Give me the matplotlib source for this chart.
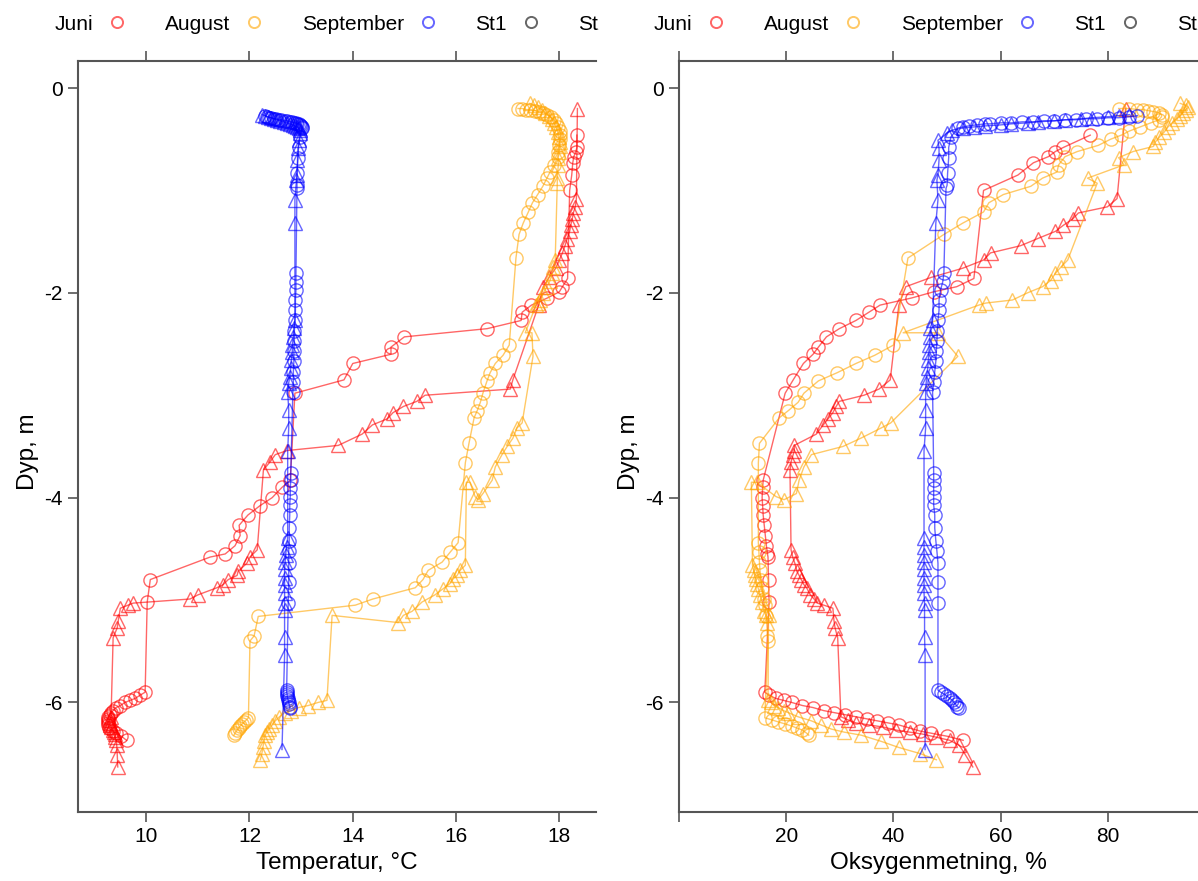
"""Depth profiles of temperature and oxygen saturation, June/August/September, St1 and St2."""

import matplotlib

matplotlib.use("Agg")
import matplotlib.pyplot as plt
from matplotlib.lines import Line2D
from matplotlib.transforms import Bbox, TransformedBbox

plt.rcParams["font.family"] = ["Liberation Sans", "DejaVu Sans"]
plt.rcParams["axes.unicode_minus"] = False

# ---- data (depth in m, temperature in C, oxygen in %) ----
juni_st1_depth = [-0.46, -0.58, -0.62, -0.67, -0.73, -0.85, -1.0, -1.86, -1.94, -1.99, -2.05, -2.12, -2.19,
                  -2.27, -2.35, -2.43, -2.53, -2.6, -2.69, -2.85, -2.98, -3.83, -3.9, -4.0, -4.08, -4.17,
                  -4.27, -4.37, -4.47, -4.55, -4.58, -4.8, -5.02,
                  -5.9, -5.93, -5.96, -5.98, -6.0, -6.03, -6.05, -6.08, -6.1, -6.12, -6.14, -6.16, -6.18,
                  -6.2, -6.22, -6.25, -6.28, -6.3, -6.33, -6.37]
juni_st1_temp = [18.34, 18.34, 18.32, 18.28, 18.26, 18.24, 18.2, 18.16, 18.06, 18.0, 17.77, 17.46, 17.28,
                 17.26, 16.6, 15.0, 14.74, 14.74, 14.0, 13.83, 12.88, 12.79, 12.63, 12.44, 12.2, 11.97,
                 11.8, 11.82, 11.72, 11.53, 11.24, 10.08, 10.02,
                 9.98, 9.88, 9.79, 9.69, 9.59, 9.5, 9.42, 9.36, 9.32, 9.29, 9.27, 9.26, 9.26,
                 9.26, 9.27, 9.28, 9.35, 9.42, 9.52, 9.62]
juni_st1_oxy = [76.7, 71.7, 70.2, 68.9, 66.1, 63.2, 56.8, 55.0, 51.8, 47.5, 43.4, 37.5, 35.4,
                33.0, 29.9, 27.5, 26.0, 25.0, 23.2, 21.3, 19.8, 15.7, 15.6, 15.5, 15.6, 15.7,
                15.9, 16.1, 16.3, 16.5, 16.6, 16.7, 16.8,
                16.0, 16.8, 18.0, 19.5, 21.0, 23.0, 25.0, 27.0, 29.0, 31.0, 33.0, 35.0, 37.0,
                39.0, 41.0, 43.0, 45.0, 47.0, 50.0, 53.0]

juni_st2_depth = [-0.2, -1.08, -1.16, -1.22, -1.28, -1.34, -1.4, -1.47, -1.54, -1.61, -1.68, -1.76, -1.85,
                  -1.94, -2.12, -2.85, -2.94,
                  -3.0, -3.06, -3.11, -3.17, -3.23, -3.29, -3.38, -3.49, -3.54, -3.58, -3.65, -3.73,
                  -4.51, -4.58, -4.64, -4.72, -4.76, -4.8, -4.85, -4.88, -4.95, -4.99, -5.03, -5.05,
                  -5.08, -5.2, -5.27, -5.37,
                  -6.14, -6.17, -6.2, -6.22, -6.24, -6.27, -6.29, -6.31, -6.34, -6.37, -6.42, -6.51, -6.63]
juni_st2_temp = [18.35, 18.33, 18.31, 18.27, 18.25, 18.22, 18.2, 18.15, 18.11, 18.06, 18.0, 17.93, 17.8,
                 17.69, 17.6, 17.1, 17.05,
                 15.4, 15.24, 14.98, 14.78, 14.67, 14.38, 14.18, 13.72, 12.73, 12.5, 12.4, 12.27,
                 12.15, 12.01, 11.95, 11.78, 11.76, 11.59, 11.49, 11.37, 11.0, 10.85, 9.75, 9.65,
                 9.5, 9.46, 9.44, 9.36,
                 9.32, 9.3, 9.29, 9.3, 9.32, 9.35, 9.37, 9.39, 9.4, 9.42, 9.43, 9.44, 9.45]
juni_st2_oxy = [83.3, 81.7, 79.9, 74.5, 73.4, 71.7, 70.2, 66.9, 63.7, 58.1, 56.8, 52.9, 47.0,
                42.3, 41.0, 39.4, 37.3,
                34.5, 29.9, 29.3, 28.7, 27.8, 26.9, 25.6, 21.5, 21.5, 21.3, 20.9, 20.7,
                20.9, 21.2, 21.6, 22.0, 22.4, 22.8, 23.3, 23.8, 24.5, 25.2, 25.8, 27.0,
                28.7, 28.9, 29.1, 29.6,
                30.2, 31.5, 33.0, 35.5, 38.0, 40.5, 43.0, 45.5, 48.0, 50.5, 52.3, 53.4, 54.8]

august_st1_depth = [-0.2, -0.2, -0.21, -0.21, -0.22, -0.23, -0.24, -0.26, -0.28, -0.31, -0.34, -0.38,
                    -0.42, -0.46, -0.5, -0.56, -0.62,
                    -0.67, -0.75, -0.82, -0.88, -0.96, -1.04, -1.12, -1.21, -1.32, -1.43, -1.66,
                    -2.51, -2.61, -2.69, -2.78, -2.86, -2.98, -3.07, -3.15, -3.22, -3.47, -3.66,
                    -4.44, -4.53, -4.63, -4.71, -4.8, -4.88, -4.99, -5.05, -5.16, -5.35, -5.4,
                    -6.15, -6.17, -6.19, -6.21, -6.23, -6.25, -6.27, -6.3, -6.32]
august_st1_temp = [17.2, 17.28, 17.36, 17.44, 17.52, 17.6, 17.68, 17.76, 17.83, 17.89, 17.94, 17.98,
                   18.01, 18.02, 18.02, 18.0, 17.98,
                   17.97, 17.9, 17.82, 17.76, 17.68, 17.58, 17.48, 17.4, 17.3, 17.22, 17.16,
                   17.03, 16.91, 16.76, 16.66, 16.6, 16.52, 16.47, 16.41, 16.35, 16.25, 16.18,
                   16.04, 15.89, 15.73, 15.46, 15.36, 15.21, 14.39, 14.05, 12.17, 12.09, 12.01,
                   11.98, 11.94, 11.9, 11.86, 11.82, 11.79, 11.76, 11.72, 11.7]
august_st1_oxy = [82.0, 84.0, 85.5, 86.5, 87.5, 88.5, 89.5, 90.0, 90.0, 89.5, 88.0, 86.0,
                  84.0, 82.5, 80.5, 78.2, 74.3,
                  72.0, 70.8, 70.5, 67.8, 65.6, 60.5, 57.8, 56.8, 52.9, 49.4, 42.7,
                  40.0, 36.5, 33.0, 29.5, 26.0, 23.3, 22.2, 20.4, 18.7, 15.0, 14.8,
                  14.8, 14.9, 15.0, 15.1, 15.3, 15.5, 15.8, 16.0, 16.3, 16.5, 16.6,
                  16.0, 17.3, 18.5, 19.8, 21.0, 22.0, 23.0, 23.8, 24.2]

august_st2_depth = [-0.15, -0.17, -0.19, -0.21, -0.24, -0.27, -0.3, -0.34, -0.38, -0.43, -0.48, -0.53,
                    -0.57, -0.62, -0.68,
                    -0.75, -0.88, -0.93,
                    -1.68, -1.75, -1.81, -1.88, -1.94, -2.0, -2.07, -2.1, -2.12, -2.39, -2.39, -2.62,
                    -3.27, -3.32, -3.42, -3.5, -3.58, -3.7, -3.83, -3.96, -4.02, -3.99, -3.85, -3.85,
                    -4.66, -4.71, -4.76, -4.79, -4.84, -4.89, -4.95, -5.02, -5.11, -5.15, -5.22, -5.15,
                    -5.98, -6.0, -6.03, -6.05, -6.08, -6.1, -6.14, -6.18, -6.22, -6.26, -6.29, -6.32,
                    -6.38, -6.44, -6.5, -6.56]
august_st2_temp = [17.43, 17.5, 17.58, 17.66, 17.73, 17.8, 17.86, 17.9, 17.94, 17.97, 17.99, 18.01,
                   18.01, 18.0, 17.98,
                   17.98, 17.96, 17.96,
                   17.92, 17.88, 17.86, 17.82, 17.76, 17.69, 17.63, 17.58, 17.55, 17.34, 17.47, 17.49,
                   17.28, 17.18, 17.1, 16.99, 16.89, 16.76, 16.7, 16.52, 16.43, 16.37, 16.27, 16.2,
                   16.18, 16.08, 16.02, 15.95, 15.88, 15.75, 15.59, 15.34, 15.15, 14.98, 14.88, 13.6,
                   13.5, 13.33, 13.14, 12.95, 12.8, 12.68, 12.58, 12.5, 12.44, 12.38, 12.34, 12.3,
                   12.28, 12.26, 12.24, 12.21]
august_st2_oxy = [93.5, 94.5, 95.0, 94.5, 94.0, 93.5, 92.8, 92.0, 91.2, 90.5, 89.6, 88.8,
                  88.5, 84.7, 82.0,
                  83.0, 76.2, 78.0,
                  72.5, 71.2, 70.2, 69.3, 67.8, 65.0, 62.2, 57.2, 55.9, 41.8, 48.3, 52.0,
                  39.5, 37.7, 33.9, 30.6, 24.7, 23.3, 22.4, 21.9, 19.6, 18.1, 14.5, 13.5,
                  13.7, 13.9, 14.1, 14.3, 14.5, 14.8, 15.1, 15.5, 15.9, 16.2, 16.5, 16.7,
                  16.6, 17.2, 17.7, 18.5, 19.5, 20.4, 22.2, 24.7, 26.5, 28.4, 30.8, 34.0,
                  37.7, 41.0, 45.0, 48.0]

september_st1_depth = [-0.27, -0.28, -0.29, -0.29, -0.3, -0.3, -0.31, -0.31, -0.32, -0.32, -0.33, -0.33,
                       -0.34, -0.34, -0.35, -0.35, -0.36, -0.37, -0.38, -0.39,
                       -0.48, -0.58, -0.68, -0.83, -0.95, -0.98,
                       -1.81, -1.89, -1.97, -2.07, -2.17, -2.27, -2.37, -2.47, -2.57, -2.67, -2.77,
                       -2.87, -2.97,
                       -3.76, -3.83, -3.91, -3.99, -4.07, -4.17, -4.3, -4.42, -4.52, -4.64, -4.82, -5.03,
                       -5.88, -5.9, -5.92, -5.94, -5.96, -5.98, -6.0, -6.02, -6.04, -6.05]
september_st1_temp = [12.3, 12.34, 12.38, 12.42, 12.47, 12.52, 12.57, 12.62, 12.68, 12.73, 12.78, 12.82,
                      12.86, 12.9, 12.93, 12.96, 12.98, 13.0, 13.01, 13.02,
                      12.98, 12.95, 12.94, 12.92, 12.92, 12.92,
                      12.9, 12.9, 12.9, 12.89, 12.89, 12.88, 12.87, 12.87, 12.86, 12.86, 12.85,
                      12.85, 12.84,
                      12.8, 12.8, 12.79, 12.79, 12.78, 12.78, 12.77, 12.77, 12.76, 12.76, 12.76, 12.75,
                      12.72, 12.72, 12.73, 12.73, 12.74, 12.75, 12.76, 12.77, 12.78, 12.78]
september_st1_oxy = [85.5, 84.0, 82.0, 80.0, 78.0, 76.0, 74.0, 72.0, 70.0, 68.0, 66.0, 64.0,
                     62.0, 60.0, 58.0, 57.0, 55.5, 54.0, 53.0, 52.0,
                     50.7, 50.3, 50.3, 50.1, 50.0, 49.8,
                     49.4, 49.2, 48.8, 48.5, 48.5, 48.3, 48.2, 48.1, 48.0, 47.9, 47.7,
                     47.5, 47.3,
                     47.5, 47.5, 47.5, 47.5, 47.5, 47.7, 47.7, 47.9, 48.1, 48.3, 48.3, 48.3,
                     48.3, 48.8, 49.5, 50.0, 50.5, 51.0, 51.3, 51.6, 51.9, 52.2]

september_st2_depth = [-0.26, -0.27, -0.28, -0.29, -0.3, -0.31, -0.32, -0.33, -0.34, -0.35, -0.36, -0.37,
                       -0.38, -0.39, -0.41, -0.44,
                       -0.51, -0.59, -0.7, -0.85, -0.9, -1.09, -1.32,
                       -2.27, -2.34, -2.43, -2.51, -2.58, -2.66, -2.73, -2.82, -2.88, -2.97, -3.14,
                       -3.32, -3.54,
                       -4.39, -4.48, -4.56, -4.63, -4.7, -4.78, -4.85, -4.93, -5.03, -5.1, -5.36, -5.54,
                       -6.46]
september_st2_temp = [12.25, 12.3, 12.36, 12.42, 12.48, 12.54, 12.6, 12.66, 12.72, 12.78, 12.84, 12.88,
                      12.92, 12.95, 12.97, 12.98,
                      12.96, 12.94, 12.93, 12.92, 12.91, 12.88, 12.88,
                      12.88, 12.86, 12.85, 12.83, 12.83, 12.81, 12.8, 12.78, 12.76, 12.74, 12.76,
                      12.76, 12.74,
                      12.74, 12.72, 12.7, 12.69, 12.68, 12.68, 12.68, 12.68, 12.68, 12.68, 12.68, 12.68,
                      12.63]
september_st2_oxy = [84.0, 82.0, 80.0, 77.0, 75.0, 72.0, 70.0, 67.0, 65.0, 62.0, 60.0, 57.0,
                     55.0, 53.0, 51.0, 50.0,
                     48.3, 48.5, 48.5, 48.3, 48.1, 48.3, 47.9,
                     47.3, 46.9, 46.8, 46.7, 46.6, 46.5, 46.4, 46.2, 46.1, 46.0, 46.0,
                     46.0, 45.7,
                     45.7, 45.7, 45.7, 45.7, 45.7, 45.7, 45.7, 45.7, 45.8, 45.8, 45.8, 45.9,
                     45.9]

months = ["Juni", "August", "September"]
stations = ["St1", "St2"]
temp_ticks = [10, 12, 14, 16, 18]
oxy_ticks = [0, 20, 40, 60, 80]
oxy_tick_labels = ["", "20", "40", "60", "80"]
depth_ticks = [0, -2, -4, -6]

MONTH_COLORS = {"Juni": "#ff0000", "August": "#ffa500", "September": "#0000ff"}
STATION_MARKERS = {"St1": "o", "St2": "^"}
AXIS_COLOR = "#555555"

profiles = [
    ("Juni", "St1", juni_st1_depth, juni_st1_temp, juni_st1_oxy),
    ("Juni", "St2", juni_st2_depth, juni_st2_temp, juni_st2_oxy),
    ("August", "St1", august_st1_depth, august_st1_temp, august_st1_oxy),
    ("August", "St2", august_st2_depth, august_st2_temp, august_st2_oxy),
    ("September", "St1", september_st1_depth, september_st1_temp, september_st1_oxy),
    ("September", "St2", september_st2_depth, september_st2_temp, september_st2_oxy),
]

W, H = 1198, 881
fig = plt.figure(figsize=(W / 100, H / 100), dpi=100)


def add_axes_px(x0, x1, y0, y1):
    return fig.add_axes([x0 / W, 1 - y1 / H, (x1 - x0) / W, (y1 - y0) / H])


def style_axes(ax):
    ax.spines["right"].set_visible(False)
    for side in ("left", "bottom", "top"):
        ax.spines[side].set_color(AXIS_COLOR)
        ax.spines[side].set_linewidth(1.5)
    ax.tick_params(direction="out", length=7, width=1.2, color=AXIS_COLOR, labelsize=15,
                   top=True, labeltop=False, right=False, pad=4)
    ax.set_ylim(-7.07, 0.264)
    ax.set_yticks(depth_ticks)
    ax.set_yticklabels([str(t) for t in depth_ticks])
    ax.set_ylabel("Dyp, m", fontsize=17.5)
    ax.yaxis.set_label_coords(-0.076, 0.48)
    ax.xaxis.set_label_coords(0.5, -0.053)


def add_legend(x_px, clip_right_px):
    handles, labels = [], []
    for month in months:
        handles.append(Line2D([], [], color=MONTH_COLORS[month], marker="o", ls="none",
                              mfc="none", ms=8, mew=1.4, alpha=0.6))
        labels.append(month)
    for st in stations:
        handles.append(Line2D([], [], color="black", marker=STATION_MARKERS[st], ls="none",
                              mfc="none", ms=8, mew=1.4, alpha=0.6))
        labels.append(st)
    leg = fig.legend(handles, labels, loc="center left", bbox_to_anchor=(x_px / W, 1 - 24 / H),
                     bbox_transform=fig.transFigure, ncol=5, frameon=False, markerfirst=False,
                     handlelength=1.0, handletextpad=0.64, columnspacing=1.79, borderpad=0,
                     borderaxespad=0, fontsize=15)
    clip = TransformedBbox(Bbox([[0, 0], [clip_right_px / W, 1]]), fig.transFigure)
    for art in list(leg.get_texts()) + list(leg.legend_handles):
        art.set_clip_on(True)
        art.set_clip_box(clip)
    return leg


ax_t = add_axes_px(78, 596, 61, 812)
ax_o = add_axes_px(679, 1198, 61, 812)

for month, st, depth, temp, oxy in profiles:
    kw = dict(color=MONTH_COLORS[month], marker=STATION_MARKERS[st], mfc="none", ms=9.5,
              mew=1.0, lw=1.0, alpha=0.6)
    ax_t.plot(temp, depth, **kw)
    ax_o.plot(oxy, depth, **kw)

style_axes(ax_t)
ax_t.set_xlim(8.68, 18.71)
ax_t.set_xticks(temp_ticks)
ax_t.set_xticklabels([str(t) for t in temp_ticks])
ax_t.set_xlabel("Temperatur, °C", fontsize=17.5)

style_axes(ax_o)
ax_o.set_xlim(0.28, 96.8)
ax_o.set_xticks(oxy_ticks)
ax_o.set_xticklabels(oxy_tick_labels)
ax_o.set_xlabel("Oksygenmetning, %", fontsize=17.5)

add_legend(55, 599)
add_legend(654, W)

fig.savefig("out.png", dpi=100)
